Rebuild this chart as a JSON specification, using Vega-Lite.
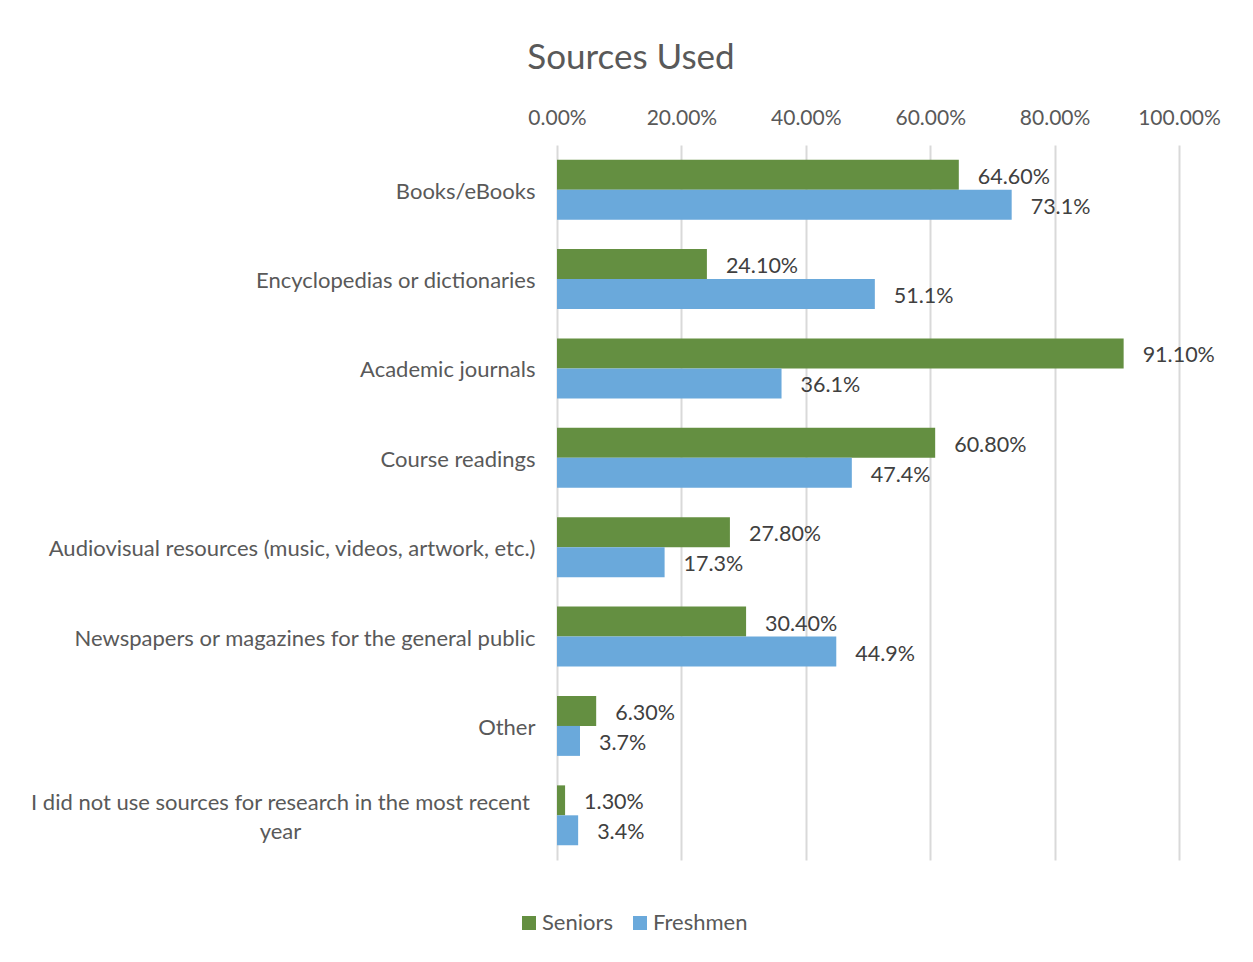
{
  "$schema": "https://vega.github.io/schema/vega-lite/v6.json",
  "width": 622,
  "height": 715,
  "autosize": {"type": "none"},
  "padding": {"left": 557, "top": 145, "right": 74, "bottom": 102},
  "background": "white",
  "config": {"view": {"stroke": null}},
  "title": {
    "text": "Sources Used",
    "anchor": "middle",
    "frame": "group",
    "dx": -237,
    "fontSize": 35,
    "font": "Lato",
    "fontWeight": "normal",
    "color": "#595959",
    "offset": 31
  },
  "data": {
    "values": [
      {"source": "Books/eBooks", "series": "Seniors", "value": 0.646, "label": "64.60%"},
      {"source": "Books/eBooks", "series": "Freshmen", "value": 0.731, "label": "73.1%"},
      {"source": "Encyclopedias or dictionaries", "series": "Seniors", "value": 0.241, "label": "24.10%"},
      {"source": "Encyclopedias or dictionaries", "series": "Freshmen", "value": 0.511, "label": "51.1%"},
      {"source": "Academic journals", "series": "Seniors", "value": 0.911, "label": "91.10%"},
      {"source": "Academic journals", "series": "Freshmen", "value": 0.361, "label": "36.1%"},
      {"source": "Course readings", "series": "Seniors", "value": 0.608, "label": "60.80%"},
      {"source": "Course readings", "series": "Freshmen", "value": 0.474, "label": "47.4%"},
      {"source": "Audiovisual resources (music, videos, artwork, etc.)", "series": "Seniors", "value": 0.278, "label": "27.80%"},
      {"source": "Audiovisual resources (music, videos, artwork, etc.)", "series": "Freshmen", "value": 0.173, "label": "17.3%"},
      {"source": "Newspapers or magazines for the general public", "series": "Seniors", "value": 0.304, "label": "30.40%"},
      {"source": "Newspapers or magazines for the general public", "series": "Freshmen", "value": 0.449, "label": "44.9%"},
      {"source": "Other", "series": "Seniors", "value": 0.063, "label": "6.30%"},
      {"source": "Other", "series": "Freshmen", "value": 0.037, "label": "3.7%"},
      {"source": "I did not use sources for research in the most recent year", "series": "Seniors", "value": 0.013, "label": "1.30%"},
      {"source": "I did not use sources for research in the most recent year", "series": "Freshmen", "value": 0.034, "label": "3.4%"}
    ]
  },
  "encoding": {
    "y": {
      "field": "source",
      "type": "nominal",
      "sort": null,
      "scale": {"paddingInner": 0.33, "paddingOuter": 0.165},
      "axis": {
        "title": null,
        "ticks": false,
        "domain": false,
        "labelPadding": {"condition": {"test": "datum.value == 'I did not use sources for research in the most recent year'", "value": 277}, "value": 22},
        "labelAlign": {"condition": {"test": "datum.value == 'I did not use sources for research in the most recent year'", "value": "center"}, "value": "right"},
        "labelOffset": {"condition": {"test": "datum.value == 'I did not use sources for research in the most recent year'", "value": -12}, "value": 2},
        "labelFontSize": 22,
        "labelFont": "Lato",
        "labelColor": "#595959",
        "labelLimit": 700,
        "labelLineHeight": 29,
        "labelExpr": "datum.value == 'I did not use sources for research in the most recent year' ? ['I did not use sources for research in the most recent', 'year'] : datum.label"
      }
    },
    "yOffset": {"field": "series", "type": "nominal", "sort": ["Seniors", "Freshmen"]},
    "x": {
      "field": "value",
      "type": "quantitative",
      "scale": {"domain": [0, 1], "nice": false},
      "axis": {
        "orient": "top",
        "title": null,
        "format": ".2%",
        "values": [0, 0.2, 0.4, 0.6, 0.8, 1.0],
        "ticks": false,
        "domain": false,
        "labelFlush": false,
        "labelPadding": 17,
        "labelFontSize": 21,
        "labelFont": "Lato",
        "labelColor": "#595959",
        "gridColor": "#D9D9D9",
        "gridWidth": 2
      }
    }
  },
  "layer": [
    {
      "mark": {"type": "bar"},
      "encoding": {
        "color": {
          "field": "series",
          "type": "nominal",
          "sort": ["Seniors", "Freshmen"],
          "scale": {"domain": ["Seniors", "Freshmen"], "range": ["#648F41", "#6AA9DB"]},
          "legend": {
            "title": null,
            "orient": "none",
            "direction": "horizontal",
            "legendX": -39,
            "legendY": 767,
            "symbolType": "square",
            "symbolSize": 196,
            "symbolStrokeWidth": 0,
            "labelFontSize": 22,
            "labelFont": "Lato",
            "labelColor": "#595959",
            "labelOffset": 2,
            "columnPadding": 16
          }
        }
      }
    },
    {
      "mark": {"type": "text", "align": "left", "baseline": "middle", "dx": 19, "dy": 3, "fontSize": 21.5, "font": "Lato", "color": "#404040"},
      "encoding": {
        "text": {"field": "label"}
      }
    }
  ]
}
